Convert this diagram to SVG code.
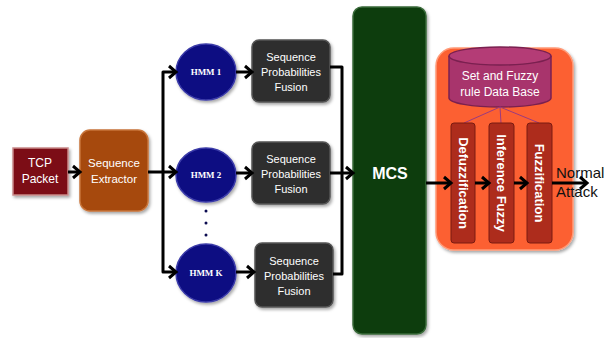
<svg xmlns="http://www.w3.org/2000/svg" width="609" height="338" viewBox="0 0 609 338">
<style>
.lbl{font-family:"Liberation Sans",Arial,sans-serif;fill:#ffffff;text-anchor:middle;}
.hmm{font-family:"Liberation Serif","Times New Roman",serif;font-size:9px;font-weight:bold;fill:#ffffff;text-anchor:middle;}
.conn{fill:none;stroke:#000;stroke-width:3;stroke-linejoin:round;}
.thin{fill:none;stroke:#9a3a80;stroke-width:1;}
.bar{fill:#ad2c1c;stroke:#7a1a10;stroke-width:1;}
.vt{font-family:"Liberation Sans",Arial,sans-serif;font-size:13px;font-weight:bold;fill:#ffffff;text-anchor:middle;}
</style>
<defs>
<marker id="arr" markerUnits="userSpaceOnUse" markerWidth="14" markerHeight="16" refX="10" refY="8" orient="auto">
<path d="M3,2 L10,8 L3,14" fill="none" stroke="#000" stroke-width="3" stroke-linejoin="miter"/>
</marker>
<filter id="sh" x="-20%" y="-20%" width="140%" height="140%">
<feDropShadow dx="1.5" dy="2" stdDeviation="1.5" flood-color="#000" flood-opacity="0.35"/>
</filter>
</defs>

<g id="tcp">
<rect x="13" y="148" width="55" height="47" fill="#7b0f12" stroke="#c98a8a" stroke-width="1.5" filter="url(#sh)"/>
<text class="lbl" font-size="12" x="40" y="167">TCP</text>
<text class="lbl" font-size="12" x="40" y="183">Packet</text>
</g>

<g id="extractor">
<rect x="80" y="130" width="68" height="81" rx="10" fill="#a64a0d" stroke="#c8743a" stroke-width="1.5" filter="url(#sh)"/>
<text class="lbl" font-size="11.5" x="114" y="167">Sequence</text>
<text class="lbl" font-size="11.5" x="114" y="183">Extractor</text>
</g>

<g id="hmm1">
<ellipse cx="206" cy="72" rx="30" ry="28" fill="#0b0b82" stroke="#3a3aa8" stroke-width="1.5" filter="url(#sh)"/>
<text class="hmm" x="206" y="75">HMM 1</text>
</g>
<g id="hmm2">
<ellipse cx="206" cy="175" rx="30" ry="27" fill="#0b0b82" stroke="#3a3aa8" stroke-width="1.5" filter="url(#sh)"/>
<text class="hmm" x="206" y="178">HMM 2</text>
</g>
<g id="dots">
<circle cx="206" cy="211" r="1.5" fill="#0b0b50"/>
<circle cx="206" cy="223" r="1.5" fill="#0b0b50"/>
<circle cx="206" cy="235" r="1.5" fill="#0b0b50"/>
</g>
<g id="hmmk">
<ellipse cx="206" cy="273" rx="30" ry="29" fill="#0b0b82" stroke="#3a3aa8" stroke-width="1.5" filter="url(#sh)"/>
<text class="hmm" x="206" y="276">HMM K</text>
</g>

<g id="fusion1">
<rect x="252" y="40" width="78" height="62" rx="7" fill="#2e2e2e" stroke="#555" stroke-width="1.5" filter="url(#sh)"/>
<text class="lbl" font-size="11" x="291" y="61">Sequence</text>
<text class="lbl" font-size="11" x="291" y="76">Probabilities</text>
<text class="lbl" font-size="11" x="291" y="91">Fusion</text>
</g>
<g id="fusion2">
<rect x="252" y="142" width="78" height="62" rx="7" fill="#2e2e2e" stroke="#555" stroke-width="1.5" filter="url(#sh)"/>
<text class="lbl" font-size="11" x="291" y="163">Sequence</text>
<text class="lbl" font-size="11" x="291" y="178">Probabilities</text>
<text class="lbl" font-size="11" x="291" y="193">Fusion</text>
</g>
<g id="fusion3">
<rect x="255" y="243" width="78" height="64" rx="7" fill="#2e2e2e" stroke="#555" stroke-width="1.5" filter="url(#sh)"/>
<text class="lbl" font-size="11" x="294" y="265">Sequence</text>
<text class="lbl" font-size="11" x="294" y="280">Probabilities</text>
<text class="lbl" font-size="11" x="294" y="295">Fusion</text>
</g>

<g id="mcs">
<rect x="353" y="7" width="73" height="327" rx="9" fill="#083d0a" stroke="#3a6a3a" stroke-width="1.5" filter="url(#sh)"/>
<text class="lbl" font-size="16" font-weight="bold" x="390" y="179">MCS</text>
</g>

<g id="fuzzy">
<rect x="436" y="48" width="137" height="202" rx="18" fill="#fc6030" stroke="#ff9a78" stroke-width="1.5" filter="url(#sh)"/>
<g id="database">
<path d="M449,56 V98 A51,9 0 0 0 551,98 V56" fill="#a8346c" stroke="#7a2050" stroke-width="1.5"/>
<ellipse cx="500" cy="56" rx="51" ry="9" fill="#b43c76" stroke="#7a2050" stroke-width="1.5"/>
<text class="lbl" font-size="12" fill="#f4e0ea" x="500" y="80">Set and Fuzzy</text>
<text class="lbl" font-size="12" fill="#f4e0ea" x="500" y="96">rule Data Base</text>
</g>
<path class="thin" d="M500,107 L464,123 M500,107 L501,123 M500,107 L539,123"/>
<g id="defuzz">
<rect class="bar" x="451" y="123" width="24" height="120" rx="3"/>
<text class="vt" transform="translate(463,183) rotate(90)" y="4.5">Defuzzification</text>
</g>
<g id="inference">
<rect class="bar" x="489" y="123" width="25" height="120" rx="3"/>
<text class="vt" transform="translate(501.5,183) rotate(90)" y="4.5">Inference Fuzzy</text>
</g>
<g id="fuzzification">
<rect class="bar" x="527" y="123" width="25" height="120" rx="3"/>
<text class="vt" transform="translate(539.5,183) rotate(90)" y="4.5">Fuzzification</text>
</g>
</g>

<g id="output">
<text font-family="'Liberation Sans',Arial,sans-serif" font-size="15" fill="#111" x="556" y="178">Normal</text>
<text font-family="'Liberation Sans',Arial,sans-serif" font-size="15" fill="#111" x="556" y="197">Attack</text>
</g>

<g id="connectors">
<path class="conn" d="M68,172 H80" marker-end="url(#arr)"/>
<path class="conn" d="M148,172 H176" marker-end="url(#arr)"/>
<path class="conn" d="M163,172 V72 H176" marker-end="url(#arr)"/>
<path class="conn" d="M163,172 V272 H176" marker-end="url(#arr)"/>
<path class="conn" d="M236,72 H252" marker-end="url(#arr)"/>
<path class="conn" d="M236,173 H252" marker-end="url(#arr)"/>
<path class="conn" d="M236,272 H254" marker-end="url(#arr)"/>
<path class="conn" d="M330,67 H342 V274 H333"/>
<path class="conn" d="M330,173 H353" marker-end="url(#arr)"/>
<path class="conn" d="M426,183 H451" marker-end="url(#arr)"/>
<path class="conn" d="M475,183 H489" marker-end="url(#arr)"/>
<path class="conn" d="M514,183 H527" marker-end="url(#arr)"/>
<path class="conn" d="M552,183 H587" marker-end="url(#arr)"/>
</g>
</svg>
